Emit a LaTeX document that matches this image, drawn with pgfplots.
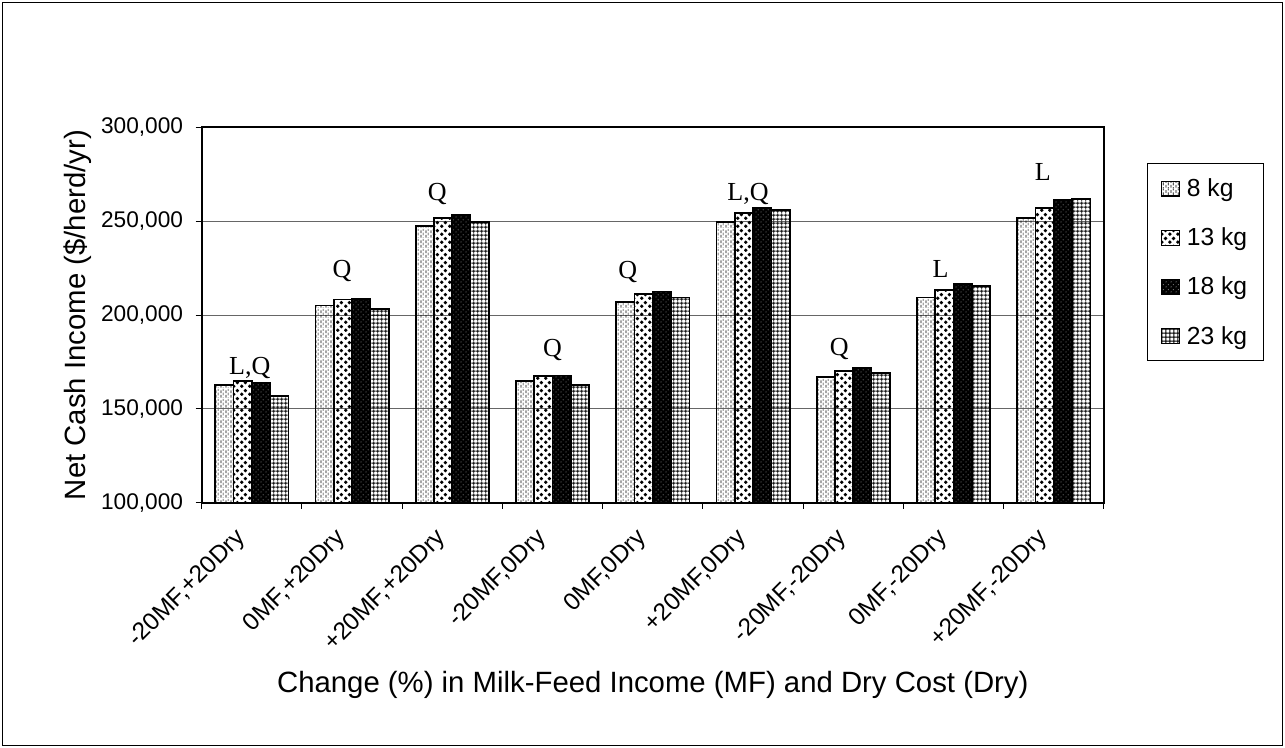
\documentclass[border=0pt]{standalone}
\usepackage{fontspec}
\setmainfont{Liberation Sans}
\newfontfamily\timesfont{Liberation Serif}
\usepackage{pgfplots}
\pgfplotsset{compat=1.18}
\usetikzlibrary{patterns.meta}

\pgfdeclarepattern{
  name=vdash, type=uncolored,
  bottom left={\pgfpoint{0pt}{0pt}},
  top right={\pgfpoint{3.75pt}{7.5pt}},
  tile size={\pgfpoint{3.75pt}{7.5pt}},
  code={\pgfsetlinewidth{0.6pt}%
    \pgfpathmoveto{\pgfpoint{0.94pt}{0.3pt}}\pgfpathlineto{\pgfpoint{0.94pt}{2.5pt}}%
    \pgfpathmoveto{\pgfpoint{0.94pt}{4.05pt}}\pgfpathlineto{\pgfpoint{0.94pt}{6.25pt}}%
    \pgfpathmoveto{\pgfpoint{2.81pt}{2.15pt}}\pgfpathlineto{\pgfpoint{2.81pt}{4.35pt}}%
    \pgfpathmoveto{\pgfpoint{2.81pt}{5.9pt}}\pgfpathlineto{\pgfpoint{2.81pt}{7.5pt}}%
    \pgfpathmoveto{\pgfpoint{2.81pt}{0pt}}\pgfpathlineto{\pgfpoint{2.81pt}{0.6pt}}%
    \pgfusepath{stroke}}
}
\pgfdeclarepattern{
  name=bigdots, type=uncolored,
  bottom left={\pgfpoint{0pt}{0pt}},
  top right={\pgfpoint{6pt}{6pt}},
  tile size={\pgfpoint{6pt}{6pt}},
  code={\pgfpathcircle{\pgfpoint{1.5pt}{1.5pt}}{1.55pt}\pgfpathcircle{\pgfpoint{4.5pt}{4.5pt}}{1.55pt}\pgfusepath{fill}}
}
\pgfdeclarepattern{
  name=wdots, type=uncolored,
  bottom left={\pgfpoint{0pt}{0pt}},
  top right={\pgfpoint{3.75pt}{3.75pt}},
  tile size={\pgfpoint{3.75pt}{3.75pt}},
  code={\pgfpathcircle{\pgfpoint{0.94pt}{0.94pt}}{0.4pt}\pgfpathcircle{\pgfpoint{2.81pt}{2.81pt}}{0.4pt}\pgfusepath{fill}}
}
\pgfdeclarepattern{
  name=finegrid, type=uncolored,
  bottom left={\pgfpoint{0pt}{0pt}},
  top right={\pgfpoint{3.2pt}{3.2pt}},
  tile size={\pgfpoint{3.2pt}{3.2pt}},
  code={\pgfsetlinewidth{0.75pt}\pgfpathmoveto{\pgfpoint{1.6pt}{0pt}}\pgfpathlineto{\pgfpoint{1.6pt}{3.2pt}}\pgfpathmoveto{\pgfpoint{0pt}{1.6pt}}\pgfpathlineto{\pgfpoint{3.2pt}{1.6pt}}\pgfusepath{stroke}}
}

\pgfplotstableread{
x   a      b      c      d
1   162600 164800 164000 156900
2   205100 208300 208600 203100
3   247500 251800 253400 249700
4   164800 167400 167800 162600
5   207000 211100 212600 209400
6   249700 254300 257300 255900
7   167100 170100 171700 169000
8   209400 213500 216500 215600
9   251800 257000 261100 262000
}\datatable

\begin{document}
\begin{tikzpicture}
\useasboundingbox (0,0) rectangle (963.75pt,561pt);
\draw[line width=1.2pt] (2.5*0.75pt,2.5*0.75pt) rectangle (1282.5*0.75pt,745.5*0.75pt);
\begin{axis}[
  at={(201.7*0.75pt,245.3*0.75pt)}, anchor=south west,
  scale only axis, width=676.7pt, height=281.5pt,
  xmin=0.5, xmax=9.5, ymin=100000, ymax=300000,
  ytick={100000,150000,...,300000},
  scaled y ticks=false,
  yticklabel style={xshift=-6pt, /pgf/number format/.cd, fixed, precision=0, 1000 sep={,}},
  /pgf/number format/assume math mode=true,
  ymajorgrids,
  major grid style={draw=black!60, line width=0.75pt},
  xtick={0.5,1.5,...,9.5},
  xticklabels={},
  extra x ticks={1,2,3,4,5,6,7,8,9},
  extra x tick labels={{-20MF,+20Dry},{0MF,+20Dry},{+20MF,+20Dry},{-20MF,0Dry},{0MF,0Dry},{+20MF,0Dry},{-20MF,-20Dry},{0MF,-20Dry},{+20MF,-20Dry}},
  extra x tick style={major tick length=0pt, grid=none, xticklabel style={rotate=45, anchor=north east, inner sep=2pt, xshift=-20pt, yshift=-1pt, font=\fontsize{18.3}{21}\selectfont}},
  tick align=outside, tick pos=left,
  major tick length=6*0.75pt,
  tick style={black, line width=0.75pt},
  axis line style={black, line width=1.3pt},
  ticklabel style={font=\fontsize{17}{20}\selectfont},
  ylabel={Net Cash Income (\$/herd/yr)},
  xlabel={Change (\%) in Milk-Feed Income (MF) and Dry Cost (Dry)},
  label style={font=\fontsize{22}{25}\selectfont},
  xlabel style={at={(axis description cs:0.5,-0.507)}, anchor=base},
  ylabel style={at={(axis description cs:-0.1293,0.5)}, anchor=base},
  ybar=0pt, bar width=0.1825,
  legend style={at={(1.048,0.904)}, anchor=north west, draw=black, line width=0.8pt,
    font=\fontsize{18.5}{22}\selectfont, row sep=18pt, inner xsep=10pt, inner ysep=9pt,
    cells={anchor=west}, /tikz/every odd column/.append style={column sep=3pt}},
  legend image code/.code={\draw[#1, line width=0.8pt] (0pt,-5.6pt) rectangle (13.5pt,5.6pt);},
  clip=false,
]
\addplot[draw=black, line width=1.3pt, pattern=vdash, pattern color=black] table[x=x,y=a] {\datatable};
\addplot[draw=black, line width=1.3pt, pattern=bigdots, pattern color=black] table[x=x,y=b] {\datatable};
\addplot[draw=black, line width=1.3pt, fill=black, postaction={pattern=wdots, pattern color=white}] table[x=x,y=c] {\datatable};
\addplot[draw=black, line width=1.3pt, pattern=finegrid, pattern color=black] table[x=x,y=d] {\datatable};
\legend{8 kg,13 kg,18 kg,23 kg}
\begin{scope}[every node/.style={font=\timesfont\fontsize{19.5}{22}\selectfont, anchor=base, inner sep=0pt}]
\node at (axis cs:0.98,168400) {L,Q};
\node at (axis cs:1.90,220200) {Q};
\node at (axis cs:2.85,260900) {Q};
\node at (axis cs:4.00,178100) {Q};
\node at (axis cs:4.75,219200) {Q};
\node at (axis cs:5.95,260800) {L,Q};
\node at (axis cs:6.86,178200) {Q};
\node at (axis cs:7.87,220100) {L};
\node at (axis cs:8.89,271500) {L};
\end{scope}
\end{axis}
\end{tikzpicture}
\end{document}
